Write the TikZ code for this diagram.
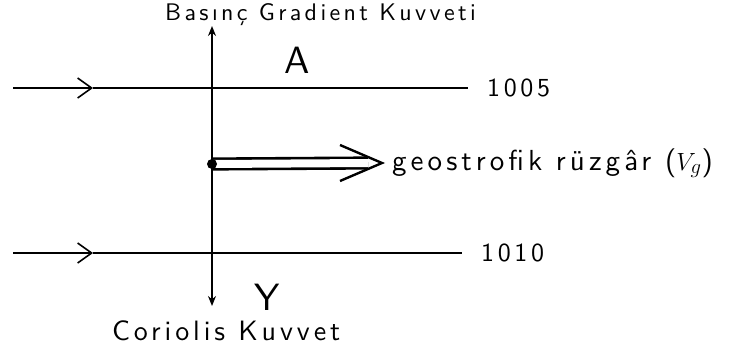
\documentclass[tikz,border=0pt]{standalone}
\usepackage{fontspec}
\newfontfamily\handsf{lmsans10-regular.otf}
\newfontfamily\handwide[LetterSpace=14]{lmsans10-regular.otf}
\usepackage{tikz}
\usetikzlibrary{arrows.meta, calc}

\begin{document}
\begin{tikzpicture}[
    x=1pt, y=-1pt,
    isobar/.style={line width=1.6pt},
    barb/.style={-{Straight Barb[length=14pt, width=20pt, line width=1.6pt]}},
    axis/.style={line width=1.4pt, -{Stealth[length=10pt, width=8pt]}},
    wind/.style={line width=2.6pt, double, double distance=8pt},
    wide/.style={font=\handwide\fontsize{#1}{#1}\selectfont, inner sep=0pt},
    isolbl/.style={font=\handwide\fontsize{26}{28}\selectfont, inner ysep=0pt, inner xsep=19pt},
    big/.style={font=\handsf\fontsize{38}{40}\selectfont, inner sep=0pt}
]
\useasboundingbox (0,0) rectangle (736,349);
\coordinate (o) at (212,164);
\coordinate (n) at (212,26);
\coordinate (s) at (212,306);
\coordinate (tip) at (382,163);
\node[wide=24, anchor=west] (pgf) at (165,15) {Basınç Gradient Kuvveti};
\node[big] (a) at (297,60) {A};
\node[big] (y) at (267,297) {Y};
\node[wide=28, anchor=west] (cor) at (112,331) {Coriolis Kuvvet};
\node[wide=29, anchor=base west] (geo) at (392,170) {geostrofik rüzgâr ($V_g$)};
\coordinate (w1) at (13,88);
\coordinate (m1) at (93,88);
\node[isolbl, anchor=west] (p1005) at (468,88) {1005};
\coordinate (w2) at (13,253);
\coordinate (m2) at (93,253);
\node[isolbl, anchor=west] (p1010) at (462,253) {1010};
\draw[isobar, barb] (w1) -- (m1);
\draw[isobar] (m1) -- (p1005);
\draw[isobar, barb] (w2) -- (m2);
\draw[isobar] (m2) -- (p1010);
\draw[axis] (o) -- (n);
\draw[axis] (o) -- (s);
\draw[wind] (o) -- ($(tip)+(-14,0)$);
\draw[line width=2.4pt, line join=miter] ($(tip)+(-42,-18)$) -- (tip) -- ($(tip)+(-42,18)$);
\fill (o) circle (5);
\end{tikzpicture}
\end{document}
